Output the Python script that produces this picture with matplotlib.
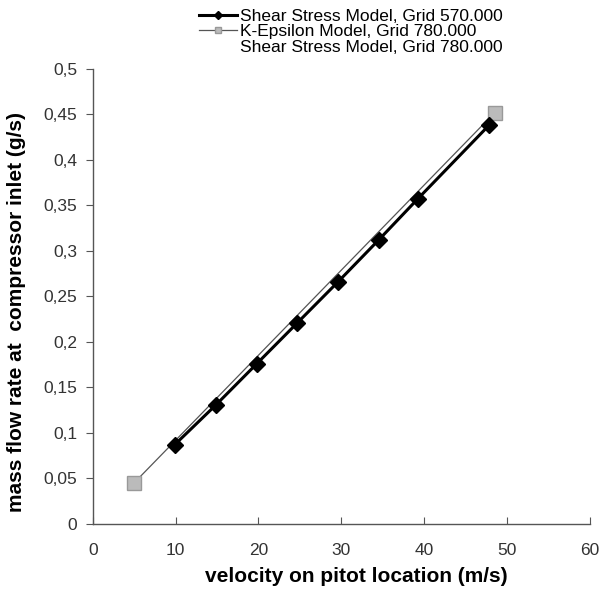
import matplotlib
matplotlib.use("Agg")
import matplotlib.pyplot as plt
from matplotlib.ticker import FuncFormatter

plt.rcParams['font.family'] = ['Liberation Sans', 'DejaVu Sans']

# Data
ss570_x = [9.9, 14.9, 19.8, 24.7, 29.6, 34.5, 39.2, 47.8]
ss570_y = [0.087, 0.131, 0.176, 0.221, 0.266, 0.312, 0.357, 0.438]
ke780_x = [5.0, 48.5]
ke780_y = [0.045, 0.452]
ss780_x = [5.0, 48.5]
ss780_y = [0.042, 0.446]

labels = ["Shear Stress Model, Grid 570.000",
          "K-Epsilon Model, Grid 780.000",
          "Shear Stress Model, Grid 780.000"]

fig = plt.figure(figsize=(6.02, 6.0), dpi=100)
ax = fig.add_axes([0.154, 0.127, 0.826, 0.758])

l1, = ax.plot(ss570_x, ss570_y, color='black', lw=2.2, marker='D', ms=8,
              label=labels[0], zorder=3)
l2, = ax.plot(ke780_x, ke780_y, color='#555555', lw=0.9, marker='s', ms=10,
              mfc='#bbbbbb', mec='#999999', label=labels[1], zorder=2)
l3, = ax.plot(ss780_x, ss780_y, color='white', lw=0.8, label=labels[2], zorder=1)

ax.set_xlim(0, 60)
ax.set_ylim(0, 0.5)
ax.set_xticks([0, 10, 20, 30, 40, 50, 60])
ax.set_yticks([0, 0.05, 0.1, 0.15, 0.2, 0.25, 0.3, 0.35, 0.4, 0.45, 0.5])
ax.yaxis.set_major_formatter(FuncFormatter(lambda v, p: ('%g' % v).replace('.', ',')))

for s in ['top', 'right']:
    ax.spines[s].set_visible(False)
for s in ['left', 'bottom']:
    ax.spines[s].set_color('#555555')
    ax.spines[s].set_linewidth(1.0)
ax.tick_params(axis='y', direction='out', length=5, color='#555555', labelsize=12.5,
               labelcolor='#333333', pad=6)
ax.tick_params(axis='x', direction='in', length=5, color='#555555', labelsize=12.5,
               labelcolor='#333333', pad=14)

ax.set_xlabel('velocity on pitot location (m/s)', fontsize=15, fontweight='bold')
ax.set_ylabel('mass flow rate at  compressor inlet (g/s)', fontsize=15, fontweight='bold')
ax.xaxis.set_label_coords(0.53, -0.095)
ax.yaxis.set_label_coords(-0.135, 0.465)

fig.legend(handles=[l1, l2, l3], labels=labels, loc='upper left',
           bbox_to_anchor=(0.31, 1.005), frameon=False, fontsize=12.5,
           handlelength=2.2, handletextpad=0.2, labelspacing=0.0, markerscale=0.5,
           borderaxespad=0.3)

fig.savefig('out.png', dpi=100, facecolor='white')
